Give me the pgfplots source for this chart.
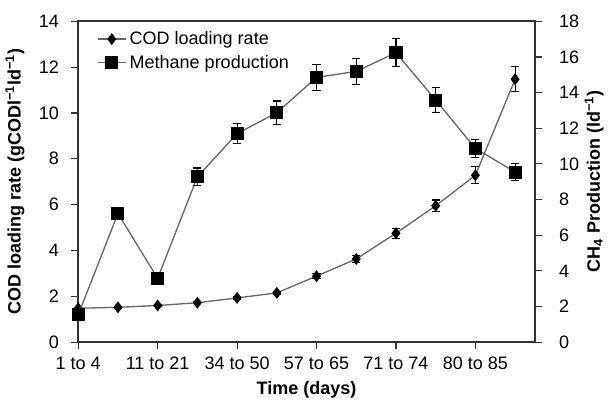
\documentclass[border=0pt]{standalone}
\usepackage{pgfplots}
\pgfplotsset{compat=1.18}
\usepackage{fontspec}
\setmainfont{Liberation Sans}

\begin{document}
\begin{tikzpicture}[font=\fontsize{11}{13}\selectfont]
\pgfplotsset{
  every axis/.append style={
    width=279pt, height=196pt, scale only axis,
    xmin=0, xmax=11.5,
    axis line style={draw=black!80, line width=1.1pt},
    tick style={draw=black!80, line width=0.7pt},
    tick align=outside, major tick length=4.2pt,
    /pgf/number format/assume math mode=true,
    label style={font=\fontsize{11}{13}\selectfont\bfseries},
  },
  dataline/.style={draw=black!60, line width=0.8pt},
  ebar/.style={error bars/.cd, y dir=both, y explicit,
    error bar style={black, line width=0.7pt},
    error mark options={rotate=90, black, mark size=2.5pt, line width=0.7pt}},
}
% left axis: COD loading rate
\begin{axis}[
  ymin=0, ymax=14, ytick={0,2,...,14},
  ytick pos=left, xtick pos=bottom,
  xtick={0,2,4,6,8,10},
  xticklabels={1 to 4, 11 to 21, 34 to 50, 57 to 65, 71 to 74, 80 to 85},
  xticklabel style={yshift=-1.5pt},
  yticklabel style={xshift=-4pt},
  xlabel={Time (days)},
  ylabel={COD loading rate (gCODl\textsuperscript{−1}ld\textsuperscript{−1})},
  ylabel style={yshift=2pt},
  legend style={draw=none, fill=none, at={(0.03,0.99)}, anchor=north west,
    font=\fontsize{11}{13}\selectfont, row sep=1pt},
  legend cell align=left,
]
\addplot[dataline, mark=diamond*, mark size=3pt,
  mark options={fill=black, draw=black, solid}, ebar]
  coordinates {
  (0,1.48) +- (0,0.05)
  (1,1.52) +- (0,0.05)
  (2,1.60) +- (0,0.05)
  (3,1.72) +- (0,0.05)
  (4,1.93) +- (0,0.06)
  (5,2.15) +- (0,0.07)
  (6,2.88) +- (0,0.10)
  (7,3.63) +- (0,0.15)
  (8,4.75) +- (0,0.22)
  (9,5.95) +- (0,0.25)
  (10,7.28) +- (0,0.37)
  (11,11.47) +- (0,0.55)
  };
\addlegendentry{COD loading rate}
\addlegendimage{dataline, mark=square*, mark size=3.6pt, mark options={fill=black, draw=black, solid}}
\addlegendentry{Methane production}
\end{axis}
% right axis: methane production
\begin{axis}[
  axis y line*=right, hide x axis,
  ymin=0, ymax=18, ytick={0,2,...,18},
  yticklabel style={xshift=7pt},
  ylabel={CH\textsubscript{4} Production (ld\textsuperscript{−1})},
  ylabel style={yshift=3.5pt},
]
\addplot[dataline, mark=square*, mark size=3.6pt,
  mark options={fill=black, draw=black, solid}, ebar]
  coordinates {
  (0,1.53) +- (0,0.3)
  (1,7.22) +- (0,0.3)
  (2,3.58) +- (0,0.3)
  (3,9.27) +- (0,0.50)
  (4,11.70) +- (0,0.58)
  (5,12.87) +- (0,0.66)
  (6,14.85) +- (0,0.72)
  (7,15.19) +- (0,0.72)
  (8,16.24) +- (0,0.80)
  (9,13.58) +- (0,0.72)
  (10,10.87) +- (0,0.52)
  (11,9.54) +- (0,0.48)
  };
\end{axis}
% white margin above the plot, as in the original
\path (current axis.north) ++(0,13pt);
\end{tikzpicture}
\end{document}
